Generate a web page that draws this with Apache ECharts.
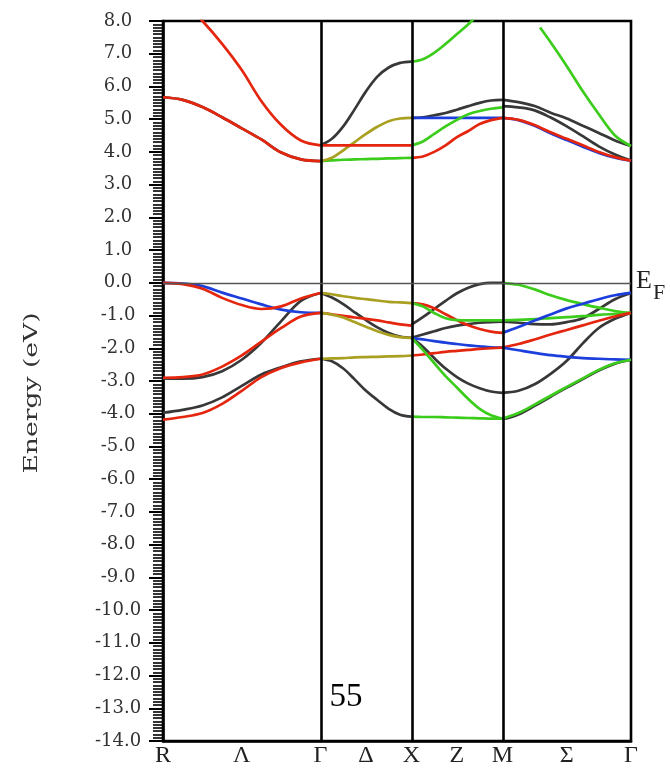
<!DOCTYPE html>
<html>
<head>
<meta charset="utf-8">
<script src="https://cdn.jsdelivr.net/npm/echarts@6/dist/echarts.min.js"></script>
<style>
  html, body { margin: 0; padding: 0; background: #fff; }
  #chart { width: 670px; height: 770px; }
</style>
</head>
<body>
<div id="chart"></div>
<script>
// Path through the simple-cubic Brillouin zone: R - Γ - X - M - Γ (units of 2π/a)
const kNodes = [0, 0.866, 1.366, 1.866, 2.573];
const kLabelPos = [0, 0.433, 0.866, 1.116, 1.366, 1.616, 1.866, 2.2196, 2.573];
const kLabels = ['R', 'Λ', 'Γ', 'Δ', 'X', 'Z', 'M', 'Σ', 'Γ'];

// Energy axis (eV)
const yMin = -14, yMax = 8, yStep = 1, yMinorPerStep = 10;

// k sampling of each path segment
const kRG = [0, 0.108, 0.217, 0.325, 0.433, 0.541, 0.650, 0.758, 0.866];
const kGX = [0.866, 0.9285, 0.991, 1.0535, 1.116, 1.1785, 1.241, 1.3035, 1.366];
const kXM = [1.366, 1.4285, 1.491, 1.5535, 1.616, 1.6785, 1.741, 1.8035, 1.866];
const kMG = [1.866, 1.954, 2.043, 2.131, 2.220, 2.308, 2.396, 2.485, 2.573];
const kMGtail = [2.073, 2.131, 2.220, 2.308, 2.396, 2.485, 2.573];

// R - Γ
const rgC1 = [9.0, 8.6, 8.0, 7.3, 6.5, 5.55, 4.82, 4.35, 4.2];
const rgC2 = [5.67, 5.59, 5.37, 5.06, 4.72, 4.38, 3.98, 3.77, 3.72];
const rgV1 = [0, -0.02, -0.1, -0.3, -0.48, -0.66, -0.82, -0.9, -0.92];
const rgV2 = [0, -0.04, -0.18, -0.46, -0.68, -0.8, -0.72, -0.48, -0.31];
const rgV3 = [-2.92, -2.93, -2.88, -2.7, -2.35, -1.83, -1.17, -0.55, -0.31];
const rgV4 = [-2.9, -2.88, -2.8, -2.56, -2.22, -1.8, -1.38, -1.03, -0.92];
const rgV5 = [-3.97, -3.88, -3.75, -3.5, -3.15, -2.8, -2.58, -2.4, -2.32];
const rgV6 = [-4.18, -4.1, -3.98, -3.7, -3.3, -2.88, -2.6, -2.43, -2.32];

// Γ - X
const gxC1 = [4.2, 4.4, 4.78, 5.3, 5.85, 6.3, 6.58, 6.72, 6.76];
const gxC2 = [4.2, 4.2, 4.2, 4.2, 4.2, 4.2, 4.2, 4.2, 4.2];
const gxC3 = [3.72, 3.82, 4.05, 4.3, 4.55, 4.77, 4.94, 5.02, 5.04];
const gxC4 = [3.72, 3.74, 3.76, 3.77, 3.78, 3.79, 3.8, 3.81, 3.82];
const gxV1 = [-0.31, -0.35, -0.41, -0.46, -0.5, -0.54, -0.58, -0.6, -0.62];
const gxV2 = [-0.31, -0.45, -0.65, -0.9, -1.14, -1.36, -1.53, -1.64, -1.68];
const gxV3 = [-0.92, -0.96, -1.01, -1.06, -1.1, -1.15, -1.21, -1.27, -1.31];
const gxV4 = [-0.92, -0.97, -1.06, -1.2, -1.34, -1.48, -1.59, -1.66, -1.68];
const gxV5 = [-2.32, -2.31, -2.3, -2.28, -2.27, -2.26, -2.25, -2.24, -2.22];
const gxV6 = [-2.32, -2.4, -2.62, -2.95, -3.3, -3.58, -3.85, -4.03, -4.09];

// X - M
const xmC1 = [6.75, 6.83, 7.03, 7.3, 7.6, 7.9, 8.25, 8.6, 8.8];
const xmC2 = [5.04, 5.06, 5.12, 5.19, 5.29, 5.4, 5.5, 5.57, 5.59];
const xmC3 = [5.04, 5.04, 5.04, 5.04, 5.04, 5.04, 5.04, 5.04, 5.04];
const xmC4 = [4.2, 4.32, 4.55, 4.78, 4.98, 5.15, 5.25, 5.32, 5.36];
const xmC5 = [3.82, 3.86, 4.0, 4.2, 4.45, 4.64, 4.85, 4.97, 5.04];
const xmV1 = [-1.28, -1.05, -0.8, -0.55, -0.32, -0.15, -0.04, 0, 0];
const xmV2 = [-0.62, -0.66, -0.78, -0.96, -1.14, -1.3, -1.41, -1.49, -1.53];
const xmV3 = [-0.62, -0.72, -0.92, -1.08, -1.14, -1.15, -1.15, -1.15, -1.15];
const xmV4 = [-1.68, -1.58, -1.48, -1.38, -1.31, -1.26, -1.22, -1.2, -1.19];
const xmV5 = [-1.68, -1.73, -1.78, -1.83, -1.87, -1.91, -1.94, -1.97, -1.98];
const xmV6 = [-2.22, -2.19, -2.15, -2.11, -2.08, -2.05, -2.02, -2.0, -1.98];
const xmV7 = [-1.68, -1.95, -2.3, -2.62, -2.88, -3.08, -3.22, -3.32, -3.36];
const xmV8 = [-1.68, -2.05, -2.45, -2.85, -3.2, -3.55, -3.85, -4.05, -4.15];
const xmV9 = [-4.09, -4.1, -4.1, -4.11, -4.12, -4.13, -4.14, -4.15, -4.15];

// M - Γ
const mgC1 = [7.8, 7.35, 6.62, 5.85, 5.15, 4.5, 4.18];
const mgC2 = [5.59, 5.52, 5.4, 5.2, 5.02, 4.8, 4.58, 4.35, 4.18];
const mgC3 = [5.4, 5.36, 5.27, 5.05, 4.78, 4.48, 4.17, 3.92, 3.74];
const mgC4 = [5.04, 4.97, 4.8, 4.57, 4.36, 4.16, 3.97, 3.82, 3.73];
const mgC5 = [5.04, 4.98, 4.82, 4.6, 4.4, 4.2, 4.0, 3.84, 3.73];
const mgV1 = [0, -0.06, -0.2, -0.38, -0.53, -0.65, -0.76, -0.86, -0.92];
const mgV2 = [-1.53, -1.35, -1.15, -0.97, -0.78, -0.64, -0.5, -0.38, -0.31];
const mgV3 = [-1.19, -1.22, -1.26, -1.27, -1.2, -1.08, -0.8, -0.5, -0.31];
const mgV4 = [-1.15, -1.13, -1.11, -1.08, -1.05, -1.02, -0.98, -0.95, -0.92];
const mgV5 = [-1.98, -1.87, -1.73, -1.58, -1.44, -1.3, -1.16, -1.03, -0.92];
const mgV6 = [-1.98, -2.06, -2.14, -2.21, -2.26, -2.3, -2.32, -2.34, -2.35];
const mgV7 = [-3.36, -3.3, -3.1, -2.78, -2.38, -1.85, -1.38, -1.1, -0.92];
const mgV8 = [-4.17, -4.02, -3.76, -3.48, -3.2, -2.94, -2.68, -2.47, -2.35];
const mgV9 = [-4.15, -3.98, -3.72, -3.45, -3.18, -2.92, -2.66, -2.46, -2.35];

// Band colours (irreducible representations)
const RED = '#e5260f', BLACK = '#383838', BLUE = '#1c3fdc', GREEN = '#3ccc1c', OLIVE = '#a9a022';

// Drawing order: earlier entries lie underneath later ones
const bands = [
  [kRG, rgC2, BLACK], [kRG, rgC1, RED], [kRG, rgC2, RED],
  [kRG, rgV3, BLACK], [kRG, rgV5, BLACK],
  [kRG, rgV1, BLUE], [kRG, rgV2, RED], [kRG, rgV4, RED], [kRG, rgV6, RED],

  [kGX, gxC1, BLACK], [kGX, gxC4, GREEN], [kGX, gxC3, OLIVE], [kGX, gxC2, RED],
  [kGX, gxV2, BLACK], [kGX, gxV6, BLACK],
  [kGX, gxV3, RED], [kGX, gxV4, OLIVE], [kGX, gxV1, OLIVE], [kGX, gxV5, OLIVE],

  [kXM, xmC2, BLACK], [kXM, xmC3, BLUE], [kXM, xmC4, GREEN], [kXM, xmC5, RED], [kXM, xmC1, GREEN],
  [kXM, xmV1, BLACK], [kXM, xmV4, BLACK], [kXM, xmV7, BLACK],
  [kXM, xmV5, BLUE], [kXM, xmV6, RED], [kXM, xmV2, RED],
  [kXM, xmV3, GREEN], [kXM, xmV8, GREEN], [kXM, xmV9, GREEN],

  [kMG, mgC2, BLACK], [kMG, mgC3, BLACK], [kMG, mgC4, BLUE], [kMG, mgC5, RED], [kMGtail, mgC1, GREEN],
  [kMG, mgV3, BLACK], [kMG, mgV7, BLACK], [kMG, mgV8, BLACK],
  [kMG, mgV4, GREEN], [kMG, mgV1, GREEN], [kMG, mgV5, RED],
  [kMG, mgV2, BLUE], [kMG, mgV6, BLUE], [kMG, mgV9, GREEN]
];

const chart = echarts.init(document.getElementById('chart'), null, { renderer: 'canvas' });

const series = bands.map(([k, e, color]) => ({
  type: 'line',
  data: k.map((x, i) => [x, e[i]]),
  smooth: 0.35,
  showSymbol: false,
  silent: true,
  clip: true,
  lineStyle: { color: color, width: 2.7 },
  z: 3
}));

// High-symmetry verticals and the Fermi level
series.push({
  type: 'line',
  data: [],
  silent: true,
  markLine: {
    silent: true,
    symbol: ['none', 'none'],
    label: { show: false },
    animation: false,
    data: [
      { xAxis: kNodes[1], lineStyle: { color: '#000', width: 2.6, type: 'solid' } },
      { xAxis: kNodes[2], lineStyle: { color: '#000', width: 2.6, type: 'solid' } },
      { xAxis: kNodes[3], lineStyle: { color: '#000', width: 2.6, type: 'solid' } },
      { yAxis: 0, lineStyle: { color: '#555', width: 1.4, type: 'solid' } }
    ]
  },
  z: 4
});

chart.setOption({
  animation: false,
  backgroundColor: '#fff',
  grid: {
    left: 163, right: 39, top: 21, bottom: 29,
    show: true, borderColor: '#000', borderWidth: 2.6, backgroundColor: 'transparent'
  },
  xAxis: {
    type: 'value',
    min: kNodes[0],
    max: kNodes[kNodes.length - 1],
    axisLine: { show: true, onZero: false, lineStyle: { color: '#000', width: 2.6 } },
    axisTick: { show: false },
    splitLine: { show: false },
    axisLabel: {
      show: true,
      customValues: kLabelPos,
      hideOverlap: false,
      showMinLabel: true,
      showMaxLabel: true,
      margin: 3,
      fontFamily: 'Liberation Serif',
      fontSize: 24,
      color: '#222',
      formatter: function (v) {
        let best = 0;
        for (let i = 1; i < kLabelPos.length; i++) {
          if (Math.abs(kLabelPos[i] - v) < Math.abs(kLabelPos[best] - v)) best = i;
        }
        return kLabels[best];
      }
    }
  },
  yAxis: {
    type: 'value',
    min: yMin,
    max: yMax,
    interval: yStep,
    axisLine: { show: true, onZero: false, lineStyle: { color: '#000', width: 2.6 } },
    axisTick: { show: true, inside: false, length: 14, lineStyle: { color: '#000', width: 2 } },
    minorTick: { show: true, splitNumber: yMinorPerStep, length: 10, lineStyle: { color: '#000', width: 1.6 } },
    splitLine: { show: false },
    axisLabel: {
      margin: 45,
      align: 'center',
      fontFamily: 'DejaVu Serif',
      fontSize: 18,
      color: '#333',
      formatter: function (v) { return v.toFixed(1); }
    }
  },
  graphic: [
    {
      type: 'text',
      x: 32, y: 393,
      rotation: Math.PI / 2,
      scaleX: 1.4,
      style: {
        text: 'Energy (eV)',
        font: '19px "DejaVu Serif"',
        fill: '#333',
        align: 'center',
        verticalAlign: 'middle'
      }
    },
    {
      type: 'text',
      x: 636, y: 281,
      style: { text: 'E', font: '26px "Liberation Serif"', fill: '#222', align: 'left', verticalAlign: 'middle' }
    },
    {
      type: 'text',
      x: 653, y: 293,
      style: { text: 'F', font: '22px "Liberation Serif"', fill: '#222', align: 'left', verticalAlign: 'middle' }
    },
    {
      type: 'text',
      x: 346, y: 697,
      style: { text: '55', font: '33px "Liberation Serif"', fill: '#000', align: 'center', verticalAlign: 'middle' }
    }
  ],
  series: series
});
</script>
</body>
</html>
